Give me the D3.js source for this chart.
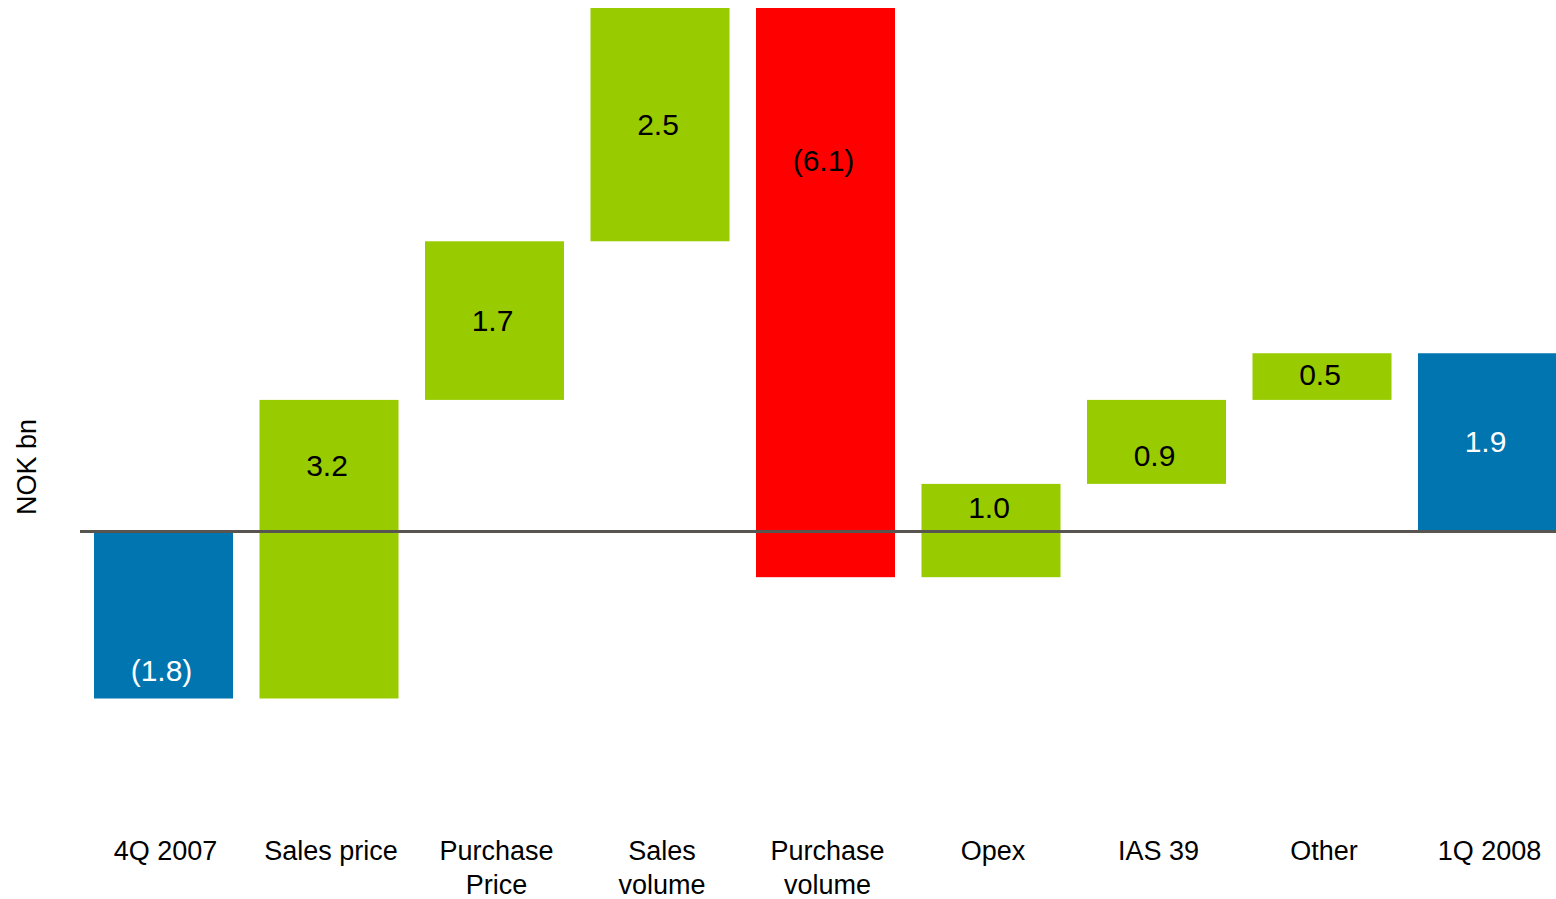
<!DOCTYPE html>
<html>
<head>
<meta charset="utf-8">
<script src="https://cdn.jsdelivr.net/npm/d3@7"></script>
<style>
  html, body { margin: 0; padding: 0; background: #ffffff; }
  svg { display: block; font-family: "Liberation Sans", Arial, sans-serif; }
</style>
</head>
<body>
<svg id="chart" width="1556" height="899"></svg>
<script>
// Result bridge, NOK bn: opening and closing totals with the changes in between
const categories = ["4Q 2007", "Sales price", "Purchase Price", "Sales volume", "Purchase volume", "Opex", "IAS 39", "Other", "1Q 2008"];
const axisLines = [["4Q 2007"], ["Sales price"], ["Purchase", "Price"], ["Sales", "volume"], ["Purchase", "volume"], ["Opex"], ["IAS 39"], ["Other"], ["1Q 2008"]];
const values = [-1.8, 3.2, 1.7, 2.5, -6.1, 1.0, 0.9, 0.5, 1.9];
const kinds = ["total", "delta", "delta", "delta", "delta", "delta", "delta", "delta", "total"];
const valueLabels = ["(1.8)", "3.2", "1.7", "2.5", "(6.1)", "1.0", "0.9", "0.5", "1.9"];
const yTitle = "NOK bn";

// Build the floating segments of the waterfall
let running = 0;
const bars = categories.map((c, i) => {
  let y0, y1;
  if (kinds[i] === "total") {
    y0 = 0; y1 = values[i]; running = values[i];
  } else {
    y0 = running; y1 = running + values[i]; running = y1;
  }
  return { cat: c, kind: kinds[i], value: values[i], label: valueLabels[i], lines: axisLines[i],
           lo: Math.min(y0, y1), hi: Math.max(y0, y1) };
});

const svg = d3.select("#chart");

const x = d3.scaleBand()
  .domain(categories)
  .range([94, 1557])
  .paddingInner(0.16)
  .paddingOuter(0);

const y = d3.scaleLinear()
  .domain([-1.8, 5.6])
  .range([698.5, 8]);

const colour = d => d.kind === "total" ? "#0075b0" : (d.value < 0 ? "#ff0000" : "#99cc00");

svg.append("g").selectAll("rect")
  .data(bars)
  .join("rect")
  .attr("x", d => x(d.cat))
  .attr("y", d => y(d.hi))
  .attr("width", x.bandwidth())
  .attr("height", d => y(d.lo) - y(d.hi))
  .attr("fill", colour);

// Zero line across the plot
svg.append("line")
  .attr("x1", 80).attr("x2", 1556)
  .attr("y1", y(0) + 1).attr("y2", y(0) + 1)
  .attr("stroke", "#58544f")
  .attr("stroke-width", 3);

// Value labels: centred on the part of the bar above the zero line, with a few nudges
const labelNudge = { "4Q 2007": 56, "Purchase volume": -109, "IAS 39": 14, "Other": -2 };
function labelY(d) {
  const top = y(d.hi);
  let bottom = y(d.lo);
  if (d.hi > 0 && d.lo < 0) bottom = y(0);
  return (top + bottom) / 2 + (labelNudge[d.cat] || 0);
}

svg.append("g").selectAll("text")
  .data(bars)
  .join("text")
  .attr("x", d => x(d.cat) + x.bandwidth() / 2 - 2)
  .attr("y", labelY)
  .attr("dy", "0.35em")
  .attr("text-anchor", "middle")
  .attr("font-size", 30)
  .attr("fill", d => d.kind === "total" ? "#ffffff" : "#000000")
  .text(d => d.label);

// Category labels under the plot
const xAxis = svg.append("g").attr("transform", "translate(0,851)");
xAxis.selectAll("text")
  .data(bars)
  .join("text")
  .attr("x", d => x(d.cat) + x.bandwidth() / 2 + 2)
  .attr("y", 0)
  .attr("text-anchor", "middle")
  .attr("font-size", 27)
  .attr("fill", "#000000")
  .each(function(d) {
    d3.select(this).selectAll("tspan")
      .data(d.lines)
      .join("tspan")
      .attr("x", x(d.cat) + x.bandwidth() / 2 + 2)
      .attr("dy", (l, j) => j === 0 ? "0.35em" : "34px")
      .text(l => l);
  });

// Vertical axis title
svg.append("text")
  .attr("transform", "translate(27,467) rotate(-90)")
  .attr("text-anchor", "middle")
  .attr("dy", "0.35em")
  .attr("font-size", 27)
  .attr("fill", "#000000")
  .text(yTitle);
</script>
</body>
</html>
